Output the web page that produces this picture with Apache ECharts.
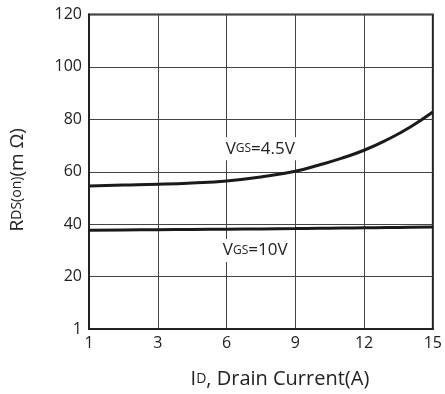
<!DOCTYPE html>
<html>
<head>
<meta charset="utf-8">
<script src="https://cdn.jsdelivr.net/npm/echarts@6/dist/echarts.min.js"></script>
<style>html,body{margin:0;padding:0;background:#fff;}#c{width:445px;height:394px;}</style>
</head>
<body>
<div id="c"></div>
<script>
// Tick labels (evenly spaced positions on the printed chart)
const xTickLabels = ['1', '3', '6', '9', '12', '15'];
const yTickLabels = ['1', '20', '40', '60', '80', '100', '120'];
// x positions along the axis (axis units: 0..15, first tick printed as "1")
const xVals = [0, 1.5, 3, 4.5, 6, 7.5, 9, 10, 11, 12, 13, 14, 15];
// R_DS(on) values, mΩ
const vgs45 = [54.6, 54.9, 55.2, 55.7, 56.5, 58.0, 60.2, 62.5, 65.1, 68.2, 72.2, 77.0, 82.8];
const vgs10 = [37.7, 37.8, 37.9, 38.0, 38.1, 38.2, 38.3, 38.4, 38.5, 38.6, 38.7, 38.8, 38.9];

const FONT = 'Open Sans';
const chart = echarts.init(document.getElementById('c'));
const pair = a => xVals.map((x, i) => [x, a[i]]);
const labelRich = {
  v: { fontFamily: FONT, fontSize: 17, color: '#222' },
  s: { fontFamily: FONT, fontSize: 12, color: '#222' }
};
chart.setOption({
  animation: false,
  backgroundColor: '#fff',
  grid: { left: 89, right: 9, top: 14.5, bottom: 64, show: true, borderColor: '#222', borderWidth: 2, backgroundColor: 'transparent' },
  xAxis: {
    type: 'value', min: 0, max: 15, interval: 3,
    axisLine: { show: true, lineStyle: { color: '#222', width: 2 } },
    axisTick: { show: false },
    splitLine: { show: true, lineStyle: { color: '#444', width: 1 } },
    axisLabel: {
      fontFamily: FONT, fontSize: 16, color: '#222', margin: 6,
      formatter: v => xTickLabels[Math.round(v / 3)]
    },
    name: '{a|I}{b|D}{a|, Drain Current(A)}',
    nameLocation: 'middle', nameGap: 40,
    nameTextStyle: {
      padding: [0, 0, 0, 38],
      rich: {
        a: { fontFamily: FONT, fontSize: 20, color: '#222' },
        b: { fontFamily: FONT, fontSize: 14, color: '#222' }
      }
    }
  },
  yAxis: {
    type: 'value', min: 0, max: 120, interval: 20,
    axisLine: { show: true, lineStyle: { color: '#222', width: 2 } },
    axisTick: { show: false },
    splitLine: { show: true, lineStyle: { color: '#444', width: 1 } },
    axisLabel: {
      fontFamily: FONT, fontSize: 16, color: '#222', margin: 7,
      formatter: v => yTickLabels[Math.round(v / 20)]
    },
    name: '{a|R}{b|DS(on)}{a|(m Ω)}',
    nameLocation: 'middle', nameGap: 62,
    nameTextStyle: {
      padding: [0, 16, 0, 0],
      rich: {
        a: { fontFamily: FONT, fontSize: 19, color: '#222' },
        b: { fontFamily: FONT, fontSize: 14, color: '#222' }
      }
    }
  },
  series: [
    {
      name: 'VGS=4.5V', type: 'line', data: pair(vgs45), smooth: 0.5,
      showSymbol: false, symbol: 'none',
      lineStyle: { color: '#1a1a1a', width: 3 },
      markPoint: {
        symbol: 'rect', symbolSize: 0,
        data: [{ coord: [7.47, 68.8] }],
        label: {
          show: true, position: 'inside', formatter: '{v|V}{s|GS}{v|=4.5V}',
          backgroundColor: '#fff', padding: [3, 2, 3, 2], rich: labelRich
        }
      }
    },
    {
      name: 'VGS=10V', type: 'line', data: pair(vgs10), smooth: 0.5,
      showSymbol: false, symbol: 'none',
      lineStyle: { color: '#1a1a1a', width: 3 },
      markPoint: {
        symbol: 'rect', symbolSize: 0,
        data: [{ coord: [7.25, 30] }],
        label: {
          show: true, position: 'inside', formatter: '{v|V}{s|GS}{v|=10V}',
          backgroundColor: '#fff', padding: [3, 2, 3, 2], rich: labelRich
        }
      }
    }
  ]
});
</script>
</body>
</html>
